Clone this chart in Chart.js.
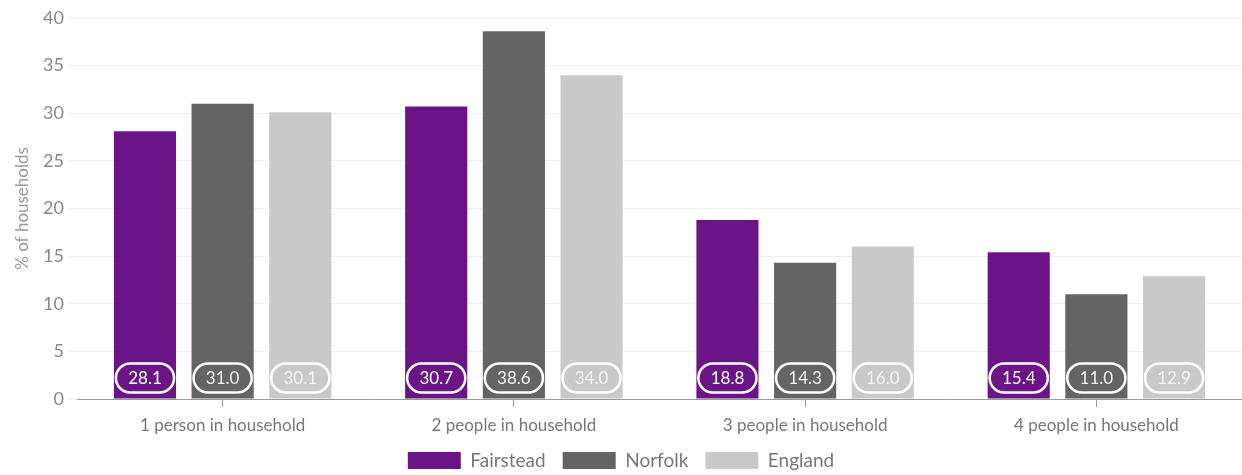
<!DOCTYPE html>
<html lang="en">
  <head>
    <meta charset="UTF-8" />
    <title>Household size</title>
    <style>
      html, body { margin: 0; padding: 0; background: #fff; }
      #wrap { width: 1242px; height: 475px; }
    </style>
  </head>
  <body>
    <div id="wrap"><canvas id="myChart" width="1242" height="475"></canvas></div>

    <script src="https://cdn.jsdelivr.net/npm/chart.js"></script>
    <script>
      const categories = [
        "1 person in household",
        "2 people in household",
        "3 people in household",
        "4 people in household",
      ];
      const fairstead = [28.1, 30.7, 18.8, 15.4];
      const norfolk = [31.0, 38.6, 14.3, 11.0];
      const england = [30.1, 34.0, 16.0, 12.9];
      const seriesNames = ["Fairstead", "Norfolk", "England"];
      const seriesColors = ["#6b1488", "#646464", "#c9c9c9"];
      const labelTextColors = ["#ffffff", "#f2f2f2", "#f4f4f4"];

      // rounded value pills sitting just above the x axis
      const pillPlugin = {
        id: "pills",
        afterDatasetsDraw(chart) {
          const ctx = chart.ctx;
          const base = chart.scales.y.getPixelForValue(0);
          ctx.save();
          ctx.font = "17px Lato";
          ctx.textAlign = "center";
          ctx.textBaseline = "middle";
          chart.data.datasets.forEach((ds, i) => {
            chart.getDatasetMeta(i).data.forEach((bar, j) => {
              const w = bar.width - 4, h = 29;
              const cx = bar.x;
              const cy = base - 21;
              ctx.beginPath();
              ctx.roundRect(cx - w / 2, cy - h / 2, w, h, h / 2);
              ctx.fillStyle = seriesColors[i];
              ctx.fill();
              ctx.lineWidth = 2.5;
              ctx.strokeStyle = "#ffffff";
              ctx.stroke();
              ctx.fillStyle = labelTextColors[i];
              ctx.fillText(ds.data[j].toFixed(1), cx, cy + 1);
            });
          });
          ctx.restore();
        },
      };

      const chart = new Chart("myChart", {
        type: "bar",
        data: {
          labels: categories,
          datasets: [fairstead, norfolk, england].map((d, i) => ({
            label: seriesNames[i],
            data: d,
            backgroundColor: seriesColors[i],
            borderWidth: 0,
            categoryPercentage: 0.8,
            barPercentage: 0.8,
          })),
        },
        plugins: [pillPlugin],
        options: {
          responsive: false,
          animation: false,
          layout: { padding: { top: 18, right: 0, left: 0, bottom: -5 } },
          plugins: {
            tooltip: { enabled: false },
            legend: {
              position: "bottom",
              labels: {
                boxWidth: 53,
                boxHeight: 17,
                padding: 17,
                color: "#777",
                font: { family: "Lato", size: 19 },
              },
            },
          },
          scales: {
            x: {
              afterFit(scale) { scale.height = 35; },
              grid: {
                offset: false,
                drawOnChartArea: false,
                color: "#999",
                tickLength: 8,
              },
              border: { color: "#999", width: 1 },
              ticks: {
                color: "#777",
                padding: 8,
                font: { family: "Lato", size: 17 },
              },
            },
            y: {
              afterFit(scale) { scale.width = 77; },
              min: 0,
              max: 40,
              ticks: {
                stepSize: 5,
                color: "#888",
                padding: 4,
                font: { family: "Lato", size: 18 },
              },
              grid: { color: "#eeeeee", tickLength: 9 },
              border: { display: false },
              title: {
                display: true,
                text: "% of households",
                color: "#999",
                font: { family: "Lato", size: 17 },
                padding: { top: 12, bottom: 4 },
              },
            },
          },
        },
      });
    </script>
  </body>
</html>
